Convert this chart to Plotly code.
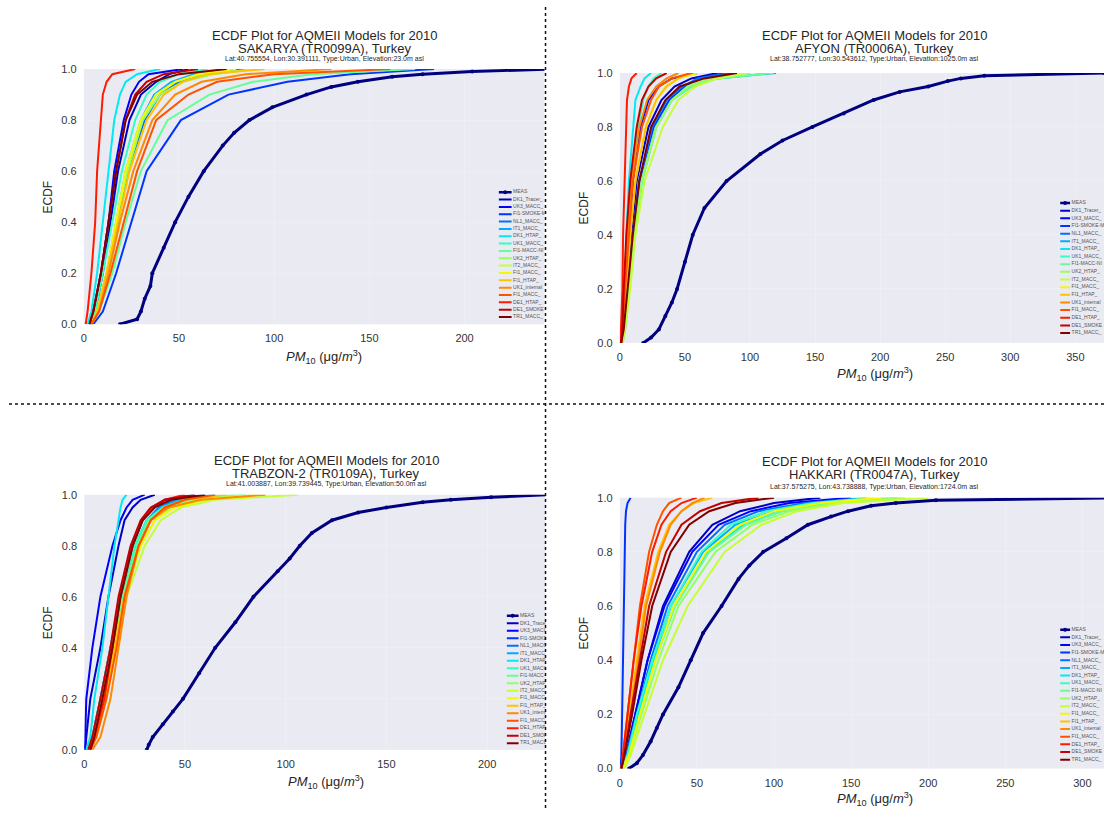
import numpy as np
import plotly.graph_objects as go

W, H = 1104, 814

# cumulative probability levels at which each model curve's PM10 value was read
P = [0, 0.05, 0.2, 0.4, 0.6, 0.8, 0.9, 0.95, 0.98, 1.0]
# finer levels for the measured (MEAS) curve
P_meas = [0, 0.02, 0.05, 0.1, 0.15, 0.2, 0.3, 0.4, 0.5, 0.6, 0.7, 0.75, 0.8, 0.85, 0.9,
          0.93, 0.95, 0.97, 0.98, 0.99, 1.0]

series_names = ["MEAS", "DK1_Tracer_", "UK3_MACC_", "FI1-SMOKE-M", "NL1_MACC_", "IT1_MACC_",
                "DK1_HTAP_", "UK1_MACC_", "FI1-MACC-NI", "UK2_HTAP_", "IT2_MACC_", "FI1_MACC_",
                "FI1_HTAP_", "UK1_internal", "FI1_MACC_", "DE1_HTAP_", "DE1_SMOKE", "TR1_MACC_"]

# MEAS PM10 values (ug/m3) at P_meas
sakarya_meas = [19, 28, 30, 32, 35, 36, 42, 48, 55, 63, 73, 79, 87, 99, 117, 130, 144, 162, 178, 204, 245]
afyon_meas = [18, 24, 30, 35, 40, 44, 50, 56, 65, 82, 108, 125, 148, 172, 195, 215, 237, 252, 262, 280, 372]
trabzon_meas = [31, 32, 34, 39, 44, 49, 57, 65, 75, 84, 96, 102, 107, 113, 123, 136, 150, 168, 182, 202, 230]
hakkari_meas = [6, 11, 15, 20, 24, 28, 38, 46, 54, 66, 77, 84, 93, 108, 122, 137, 148, 163, 179, 205, 330]

# model PM10 values (ug/m3) at the levels in P, one row per model (order of series_names[1:])
sakarya = [
    [3, 6, 10, 14, 18, 24, 30, 38, 45, 55],
    [3, 5, 9, 13, 16, 21, 25, 29, 34, 52],
    [5, 10, 17, 25, 33, 51, 76, 107, 140, 184],
    [4, 7, 12, 18, 23, 32, 40, 50, 62, 85],
    [4, 7, 12, 17, 22, 30, 37, 46, 58, 75],
    [2, 4, 7, 10, 13, 16, 19, 22, 28, 40],
    [3, 6, 10, 15, 20, 27, 33, 40, 50, 65],
    [4, 8, 15, 22, 30, 44, 66, 89, 120, 174],
    [4, 7, 12, 17, 23, 31, 40, 52, 68, 90],
    [4, 7, 12, 17, 22, 30, 38, 48, 62, 92],
    [4, 7, 12, 17, 22, 30, 38, 48, 60, 80],
    [4, 7, 12, 18, 24, 33, 42, 52, 65, 95],
    [4, 8, 13, 19, 26, 36, 48, 62, 85, 130],
    [4, 8, 14, 21, 28, 38, 55, 70, 100, 161],
    [1, 2, 4, 6, 7, 9, 10, 12, 15, 27],
    [3, 5, 9, 13, 17, 22, 27, 33, 42, 60],
    [3, 5, 9, 13, 17, 22, 28, 36, 50, 75],
]
afyon = [
    [1, 3, 6, 9, 13, 22, 32, 42, 55, 75],
    [1, 2, 4, 7, 10, 16, 22, 30, 40, 60],
    [1, 3, 6, 10, 15, 26, 38, 50, 60, 80],
    [1, 3, 6, 10, 15, 25, 36, 48, 60, 85],
    [2, 4, 7, 11, 17, 28, 40, 55, 75, 120],
    [1, 2, 4, 5, 7, 10, 12, 16, 19, 24],
    [1, 2, 4, 6, 9, 14, 18, 22, 26, 32],
    [2, 4, 7, 11, 17, 28, 40, 55, 75, 118],
    [2, 4, 7, 11, 17, 28, 40, 52, 70, 100],
    [2, 4, 8, 12, 19, 33, 45, 58, 75, 98],
    [1, 3, 5, 8, 12, 20, 28, 35, 45, 60],
    [1, 3, 5, 8, 12, 20, 28, 36, 45, 55],
    [1, 2, 4, 6, 9, 15, 21, 28, 36, 45],
    [1, 2, 4, 7, 10, 17, 24, 30, 40, 55],
    [0.5, 1, 2, 2.5, 3.5, 4.5, 5.5, 7, 9, 13],
    [1, 2, 3, 5, 8, 13, 17, 22, 28, 36],
    [1, 3, 6, 10, 15, 24, 35, 46, 65, 90],
]
trabzon = [
    [0.5, 1, 3, 8, 12, 17, 20, 24, 28, 35],
    [0.3, 0.5, 1, 4, 8, 14, 18, 21, 24, 30],
    [2, 4, 8, 13, 18, 24, 29, 34, 40, 55],
    [2, 4, 9, 14, 19, 26, 31, 37, 45, 60],
    [2, 4, 8, 13, 18, 25, 31, 38, 47, 65],
    [1, 3, 5, 9, 12, 15, 17, 18, 19, 21],
    [2, 4, 8, 13, 18, 25, 31, 39, 50, 80],
    [2, 5, 9, 14, 19, 26, 32, 40, 52, 75],
    [3, 5, 10, 15, 20, 28, 35, 43, 55, 80],
    [3, 6, 11, 16, 21, 30, 38, 48, 65, 106],
    [3, 5, 10, 15, 20, 28, 35, 45, 60, 85],
    [3, 5, 10, 15, 20, 27, 33, 40, 50, 70],
    [4, 8, 13, 17, 21, 27, 33, 42, 58, 90],
    [3, 6, 11, 16, 20, 27, 33, 40, 50, 65],
    [3, 5, 10, 14, 18, 24, 29, 34, 40, 50],
    [2, 4, 8, 13, 17, 23, 28, 33, 40, 55],
    [3, 5, 9, 14, 18, 24, 29, 35, 43, 60],
]
hakkari = [
    [1, 4, 10, 18, 28, 45, 60, 78, 100, 130],
    [1, 4, 10, 18, 29, 47, 64, 85, 110, 150],
    [0.5, 1, 1.5, 2, 2.5, 3, 3.5, 4, 5, 7],
    [1, 4, 11, 20, 31, 50, 68, 90, 120, 160],
    [1, 5, 12, 21, 33, 54, 75, 100, 130, 180],
    [1, 5, 12, 22, 35, 57, 80, 105, 135, 185],
    [1, 5, 11, 21, 33, 53, 72, 95, 125, 165],
    [2, 6, 13, 23, 36, 58, 82, 105, 135, 175],
    [2, 6, 14, 25, 38, 62, 86, 110, 140, 185],
    [3, 7, 16, 28, 44, 68, 92, 115, 145, 200],
    [2, 6, 13, 23, 35, 56, 78, 100, 130, 170],
    [1, 3, 6, 11, 16, 25, 32, 40, 48, 60],
    [1, 3, 7, 12, 17, 26, 33, 40, 47, 55],
    [1, 2, 5, 9, 13, 19, 24, 28, 32, 40],
    [1, 2, 5, 9, 14, 21, 27, 33, 40, 50],
    [1, 3, 7, 13, 19, 30, 40, 52, 66, 90],
    [1, 3, 8, 14, 21, 33, 45, 58, 75, 100],
]

main_title = "ECDF Plot for AQMEII Models for 2010"
stations = ["SAKARYA (TR0099A), Turkey", "AFYON (TR0006A), Turkey",
            "TRABZON-2 (TR0109A), Turkey", "HAKKARI (TR0047A), Turkey"]
station_info = ["Lat:40.755554, Lon:30.391111, Type:Urban, Elevation:23.0m asl",
                "Lat:38.752777, Lon:30.543612, Type:Urban, Elevation:1025.0m asl",
                "Lat:41.003887, Lon:39.739445, Type:Urban, Elevation:50.0m asl",
                "Lat:37.575275, Lon:43.738888, Type:Urban, Elevation:1724.0m asl"]
y_ticks = [0.0, 0.2, 0.4, 0.6, 0.8, 1.0]
panel_meas = [sakarya_meas, afyon_meas, trabzon_meas, hakkari_meas]
panel_models = [sakarya, afyon, trabzon, hakkari]

# layout (pixel geometry of each panel)
geo = [
    dict(xl=81, xr=543, yt=64, yb=323, xmax=242, cx=322, ty=(30, 43, 54), lab_x=45, xlab_y=356,
         lgx=497, lgw=13, lgy=189, lgdy=7.45),
    dict(xl=618.5, xr=1104, yt=68, yb=342, xmax=372, cx=874, ty=(30, 43, 54), lab_x=583, xlab_y=374,
         lgx=1060, lgw=10, lgy=200, lgdy=7.76),
    dict(xl=81.5, xr=544, yt=496, yb=755, xmax=229, cx=324, ty=(461, 474, 485), lab_x=45, xlab_y=788,
         lgx=505, lgw=12, lgy=619, lgdy=7.6),
    dict(xl=618.5, xr=1104, yt=499, yb=774, xmax=314, cx=874, ty=(462, 476, 488), lab_x=583, xlab_y=805,
         lgx=1060, lgw=10, lgy=633, lgdy=7.76),
]


def jet(t):
    r = np.interp(t, [0, 0.35, 0.66, 0.89, 1], [0, 0, 1, 1, 0.5])
    g = np.interp(t, [0, 0.125, 0.375, 0.64, 0.91, 1], [0, 0, 1, 1, 0, 0])
    b = np.interp(t, [0, 0.11, 0.34, 0.65, 1], [0.5, 1, 1, 0, 0])
    return "rgb(%d,%d,%d)" % (round(r * 255), round(g * 255), round(b * 255))


n = len(series_names)
colors = [jet(k / (n - 1)) for k in range(n)]

FONT = "Liberation Sans, Arial, sans-serif"
GRID = "#eeeef5"
fig = go.Figure()
layout = {}
annotations = []


def px_x(v):
    return v / W


def px_y(v):
    return 1 - v / H


for i, (meas, models, g) in enumerate(zip(panel_meas, panel_models, geo)):
    ax = i + 1
    xa = "x" if ax == 1 else "x%d" % ax
    ya = "y" if ax == 1 else "y%d" % ax
    layout["xaxis" if ax == 1 else "xaxis%d" % ax] = dict(
        domain=[px_x(g["xl"]), px_x(g["xr"])], range=[0, g["xmax"]], anchor=ya,
        dtick=50, tick0=0, showgrid=True, gridcolor=GRID, gridwidth=1, zeroline=False,
        showline=False, ticks="outside", ticklen=4, tickcolor="rgba(0,0,0,0)",
        tickfont=dict(size=11, color="#333333", family=FONT))
    layout["yaxis" if ax == 1 else "yaxis%d" % ax] = dict(
        domain=[px_y(g["yb"]), px_y(g["yt"])], range=[0, 1], anchor=xa,
        tickvals=y_ticks, ticktext=["%.1f" % t for t in y_ticks],
        showgrid=True, gridcolor=GRID, gridwidth=1, zeroline=False, showline=False,
        ticks="outside", ticklen=4, tickcolor="rgba(0,0,0,0)",
        tickfont=dict(size=11, color="#333333", family=FONT))

    fig.add_trace(go.Scatter(x=meas, y=P_meas, mode="lines+markers",
                             line=dict(color=colors[0], width=3),
                             marker=dict(size=4, color=colors[0]), xaxis=xa, yaxis=ya,
                             name=series_names[0], showlegend=False))
    for k, vals in enumerate(models, start=1):
        fig.add_trace(go.Scatter(x=vals, y=P, mode="lines", line=dict(color=colors[k], width=2),
                                 xaxis=xa, yaxis=ya, name=series_names[k], showlegend=False))

    # compact legend drawn in its own small axes
    lax = ax + 4
    lxa, lya = "x%d" % lax, "y%d" % lax
    lw = g["xr"] - g["lgx"]
    top = g["lgy"] - 0.5 * g["lgdy"]
    bot = g["lgy"] + (n - 0.5) * g["lgdy"]
    layout["xaxis%d" % lax] = dict(domain=[px_x(g["lgx"]), px_x(g["xr"])], range=[0, lw],
                                   anchor=lya, visible=False, fixedrange=True)
    layout["yaxis%d" % lax] = dict(domain=[px_y(bot), px_y(top)], range=[-(n - 0.5), 0.5],
                                   anchor=lxa, visible=False, fixedrange=True)
    for k in range(n):
        fig.add_trace(go.Scatter(x=[0, g["lgw"]], y=[-k, -k], mode="lines",
                                 line=dict(color=colors[k], width=2.5 if k == 0 else 2),
                                 xaxis=lxa, yaxis=lya, showlegend=False, hoverinfo="skip"))
    fig.add_trace(go.Scatter(x=[g["lgw"] / 2], y=[0], mode="markers",
                             marker=dict(size=4, color=colors[0]), xaxis=lxa, yaxis=lya,
                             showlegend=False, hoverinfo="skip"))
    fig.add_trace(go.Scatter(x=[g["lgw"] + 1.5] * n, y=[-k for k in range(n)], mode="text",
                             text=series_names, textposition="middle right",
                             textfont=dict(size=5, color="#555555", family=FONT),
                             cliponaxis=True, xaxis=lxa, yaxis=lya, showlegend=False,
                             hoverinfo="skip"))

    # titles and axis labels
    for txt, yy, fs in zip([main_title, stations[i], station_info[i]], g["ty"], [13, 13, 7]):
        annotations.append(dict(text=txt, x=px_x(g["cx"]), y=px_y(yy), xref="paper", yref="paper",
                                xanchor="center", yanchor="middle", showarrow=False,
                                font=dict(size=fs, color="#262626", family=FONT)))
    annotations.append(dict(text="ECDF", x=px_x(g["lab_x"]), y=px_y((g["yt"] + g["yb"]) / 2),
                            xref="paper", yref="paper", xanchor="center", yanchor="middle",
                            textangle=-90, showarrow=False,
                            font=dict(size=12, color="#262626", family=FONT)))
    annotations.append(dict(text="<i>PM</i><sub>10</sub> (μg/<i>m</i><sup>3</sup>)",
                            x=px_x(g["cx"]), y=px_y(g["xlab_y"]), xref="paper", yref="paper",
                            xanchor="center", yanchor="middle", showarrow=False,
                            font=dict(size=13, color="#262626", family=FONT)))

shapes = [
    dict(type="line", xref="paper", yref="paper", x0=px_x(6), x1=1, y0=px_y(404), y1=px_y(404),
         line=dict(color="#111111", width=1.5, dash="dot"), layer="above"),
    dict(type="line", xref="paper", yref="paper", x0=px_x(544), x1=px_x(544), y0=0, y1=1,
         line=dict(color="#111111", width=1.5, dash="dot"), layer="above"),
]

fig.update_layout(
    width=W, height=H, margin=dict(l=0, r=0, t=0, b=0),
    paper_bgcolor="white", plot_bgcolor="#EAEAF2",
    showlegend=False, annotations=annotations, shapes=shapes,
    font=dict(family=FONT), **layout)

fig.write_html("out.html")
